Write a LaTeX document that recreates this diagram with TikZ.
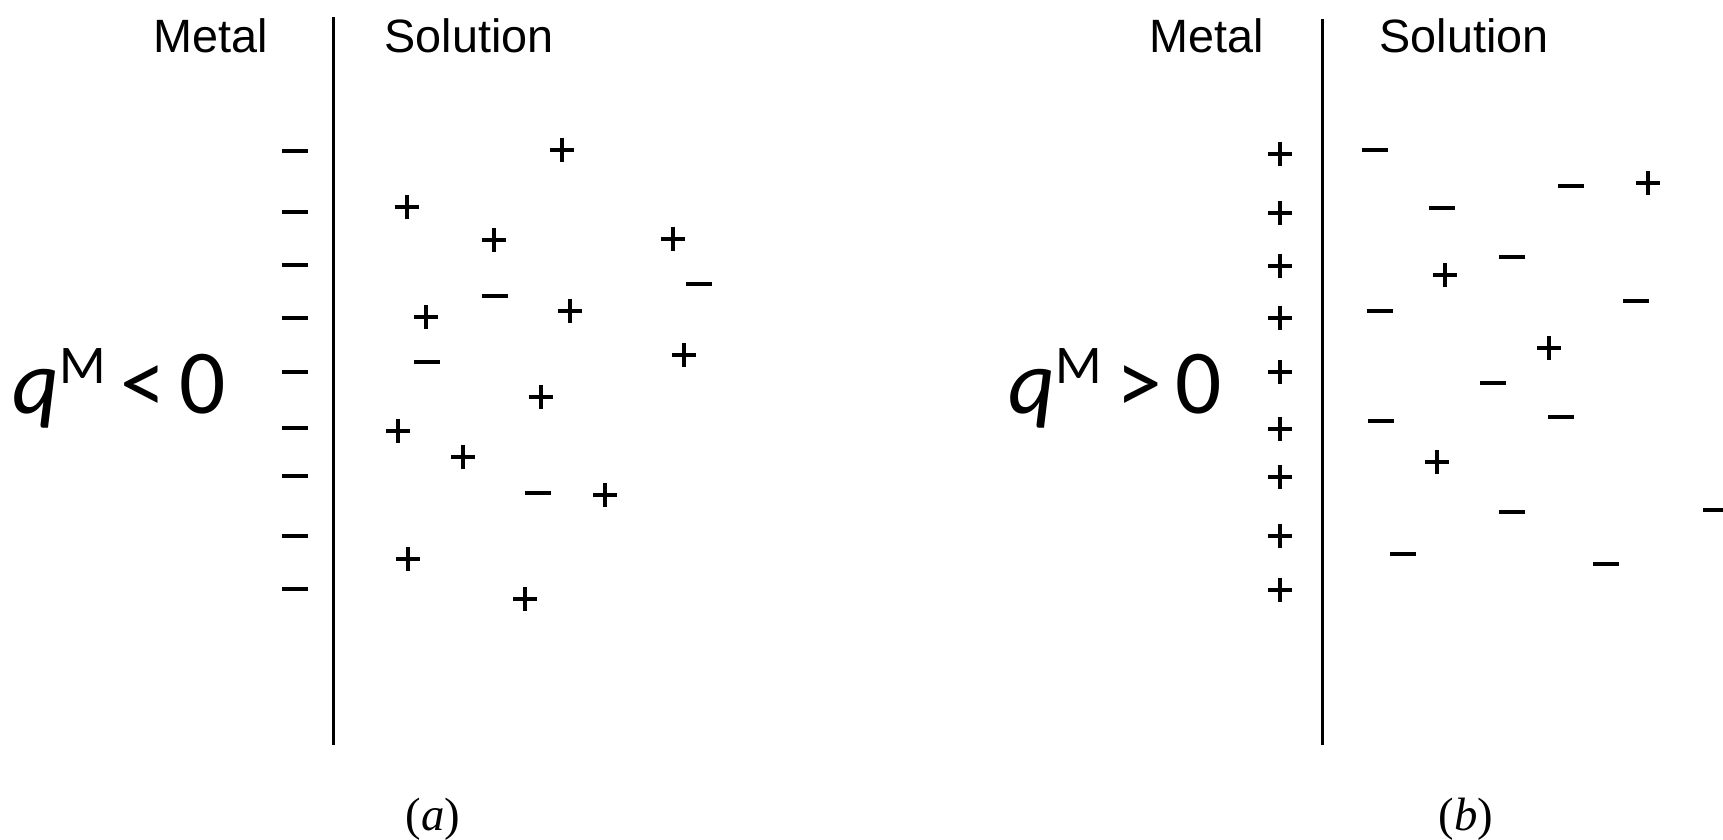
\documentclass[tikz,border=0pt]{standalone}
\usepackage{fontspec}
\setmainfont{Liberation Serif}
\setsansfont{Liberation Sans}
\newfontfamily\calfont{Carlito}

\tikzset{
  chg/.style={line width=0.4mm},
  interface/.style={line width=0.3mm},
  side/.style={font=\sffamily\fontsize{13.3}{15}\selectfont,anchor=base},
  qlabel/.style={font=\calfont\fontsize{26}{30}\selectfont,anchor=base west},
  panel/.style={font=\fontsize{13.3}{15}\selectfont,anchor=base},
}
\newcommand{\qsup}{\textit{q}\raisebox{8.5pt}{\fontsize{15.5}{16}\selectfont M}}

\begin{document}
\begin{tikzpicture}[x=0.1mm,y=-0.1mm]
\useasboundingbox (0,0) rectangle (1723,840);
% (a) negative metal
\coordinate (ifaTop) at (333,17);
\coordinate (ifaBot) at (333,745);
\draw[interface] (ifaTop) -- (ifaBot);
\node[side] (metalA) at (211,53) {Metal};
\node[side] (solA) at (469,53) {Solution};
\node[qlabel] (qA) at (0,413) {\qsup\hspace{4pt}<\hspace{4pt}0};
\node[panel] (capA) at (433,830) {(\textit{a})};
\foreach \y in {151,212,265,318,372,428,476,536,589}
  \draw[chg] (282,\y) -- (308,\y);
\foreach \x/\y in {562/150,407/207,494/240,673/239,426/317,570/311,684/355,
                   541/397,398/431,463/457,605/495,408/559,525/599}
  \draw[chg] (\x-12,\y) -- (\x+12,\y) (\x,\y-12) -- (\x,\y+12);
\foreach \x/\y in {699/284,495/296,427/362,538/493}
  \draw[chg] (\x-13,\y) -- (\x+13,\y);
% (b) positive metal
\coordinate (ifbTop) at (1322,19);
\coordinate (ifbBot) at (1322,745);
\draw[interface] (ifbTop) -- (ifbBot);
\node[side] (metalB) at (1207,53) {Metal};
\node[side] (solB) at (1464,53) {Solution};
\node[qlabel] (qB) at (996,413) {\qsup\hspace{4pt}>\hspace{4pt}0};
\node[panel] (capB) at (1466,830) {(\textit{b})};
\foreach \y in {154,213,266,318,372,429,477,536,590}
  \draw[chg] (1268,\y) -- (1292,\y) (1280,\y-12) -- (1280,\y+12);
\foreach \x/\y in {1648/183,1445/275,1549/348,1437/462}
  \draw[chg] (\x-12,\y) -- (\x+12,\y) (\x,\y-12) -- (\x,\y+12);
\foreach \x/\y in {1375/150,1571/186,1442/208,1512/257,1636/301,1380/311,1493/383,
                   1381/421,1561/417,1512/512,1716/510,1403/554,1606/564}
  \draw[chg] (\x-13,\y) -- (\x+13,\y);
\end{tikzpicture}
\end{document}
